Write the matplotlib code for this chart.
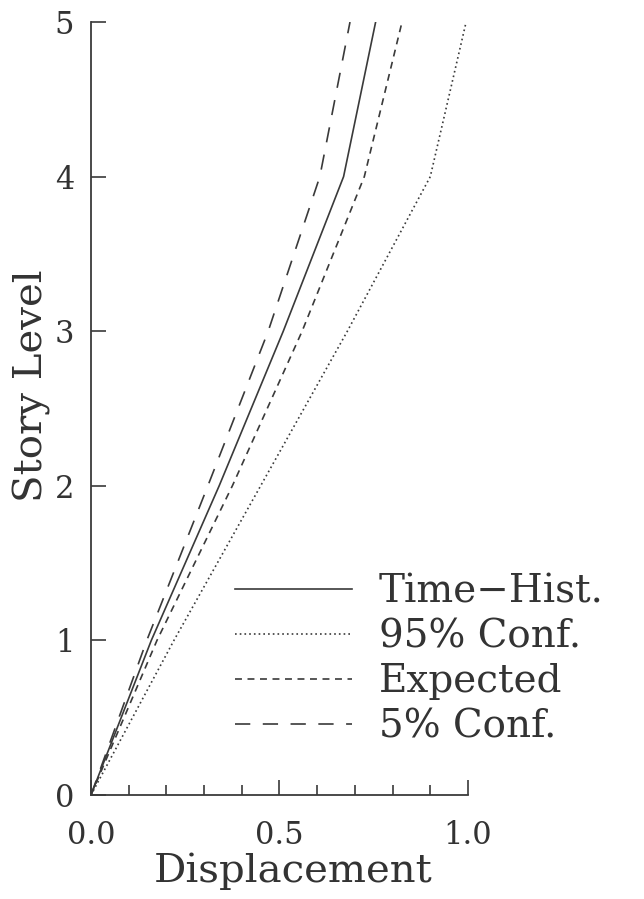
import matplotlib

matplotlib.use("Agg")
import matplotlib.pyplot as plt
from matplotlib.ticker import MultipleLocator

# story levels and peak displacements
levels = [0, 1, 2, 3, 4, 5]
time_hist = [0.0, 0.160, 0.340, 0.510, 0.670, 0.755]
conf_95 = [0.0, 0.220, 0.450, 0.680, 0.900, 0.995]
expected = [0.0, 0.175, 0.375, 0.560, 0.725, 0.825]
conf_5 = [0.0, 0.148, 0.310, 0.470, 0.607, 0.687]

series_labels = ["Time\u2212Hist.", "95% Conf.", "Expected", "5% Conf."]
x_ticks = [0.0, 0.5, 1.0]
x_tick_labels = ["0.0", "0.5", "1.0"]
y_ticks = [0, 1, 2, 3, 4, 5]

INK = "#3a3a3a"
TEXT = "#333333"

plt.rcParams["font.family"] = ["DejaVu Serif"]
plt.rcParams["lines.scale_dashes"] = False

figure = plt.figure(figsize=(6.44, 8.99), dpi=100)
axis = figure.add_axes([0.1413, 0.1157, 0.5854, 0.8598])

styles = [
    "-",
    (0, (1.2, 2.2)),
    (0, (5.0, 4.0)),
    (0, (11.0, 9.0)),
]
for values, label, style in zip(
    [time_hist, conf_95, expected, conf_5], series_labels, styles
):
    axis.plot(values, levels, color=INK, linewidth=1.2, linestyle=style, label=label)

axis.set_xlim(0, 1.0)
axis.set_ylim(0, 5)
for side in ("top", "right"):
    axis.spines[side].set_visible(False)
for side in ("left", "bottom"):
    axis.spines[side].set_color(INK)
    axis.spines[side].set_linewidth(1.3)

axis.set_xticks(x_ticks)
axis.set_xticklabels(x_tick_labels)
axis.xaxis.set_minor_locator(MultipleLocator(0.1))
axis.set_yticks(y_ticks)
axis.tick_params(
    axis="x", which="major", direction="in", length=11, width=1.2,
    color=INK, labelsize=22, labelcolor=TEXT, pad=18,
)
axis.tick_params(axis="x", which="minor", direction="in", length=7, width=1.2, color=INK)
axis.tick_params(
    axis="y", which="major", direction="in", length=11, width=1.2,
    color=INK, labelsize=22, labelcolor=TEXT, pad=12,
)

axis.set_xlabel("Displacement", fontsize=29, color=TEXT)
axis.xaxis.set_label_coords(0.535, -0.074)
axis.set_ylabel("Story Level", fontsize=29, color=TEXT)
axis.yaxis.set_label_coords(-0.105, 0.53)

legend = axis.legend(
    loc="upper left",
    bbox_to_anchor=(0.382, 0.287),
    frameon=False,
    fontsize=28,
    handlelength=3.0,
    handletextpad=0.7,
    labelspacing=0.21,
    borderpad=0,
    borderaxespad=0,
)
for text in legend.get_texts():
    text.set_color(TEXT)

figure.savefig("out.png", dpi=100)
plt.close(figure)
